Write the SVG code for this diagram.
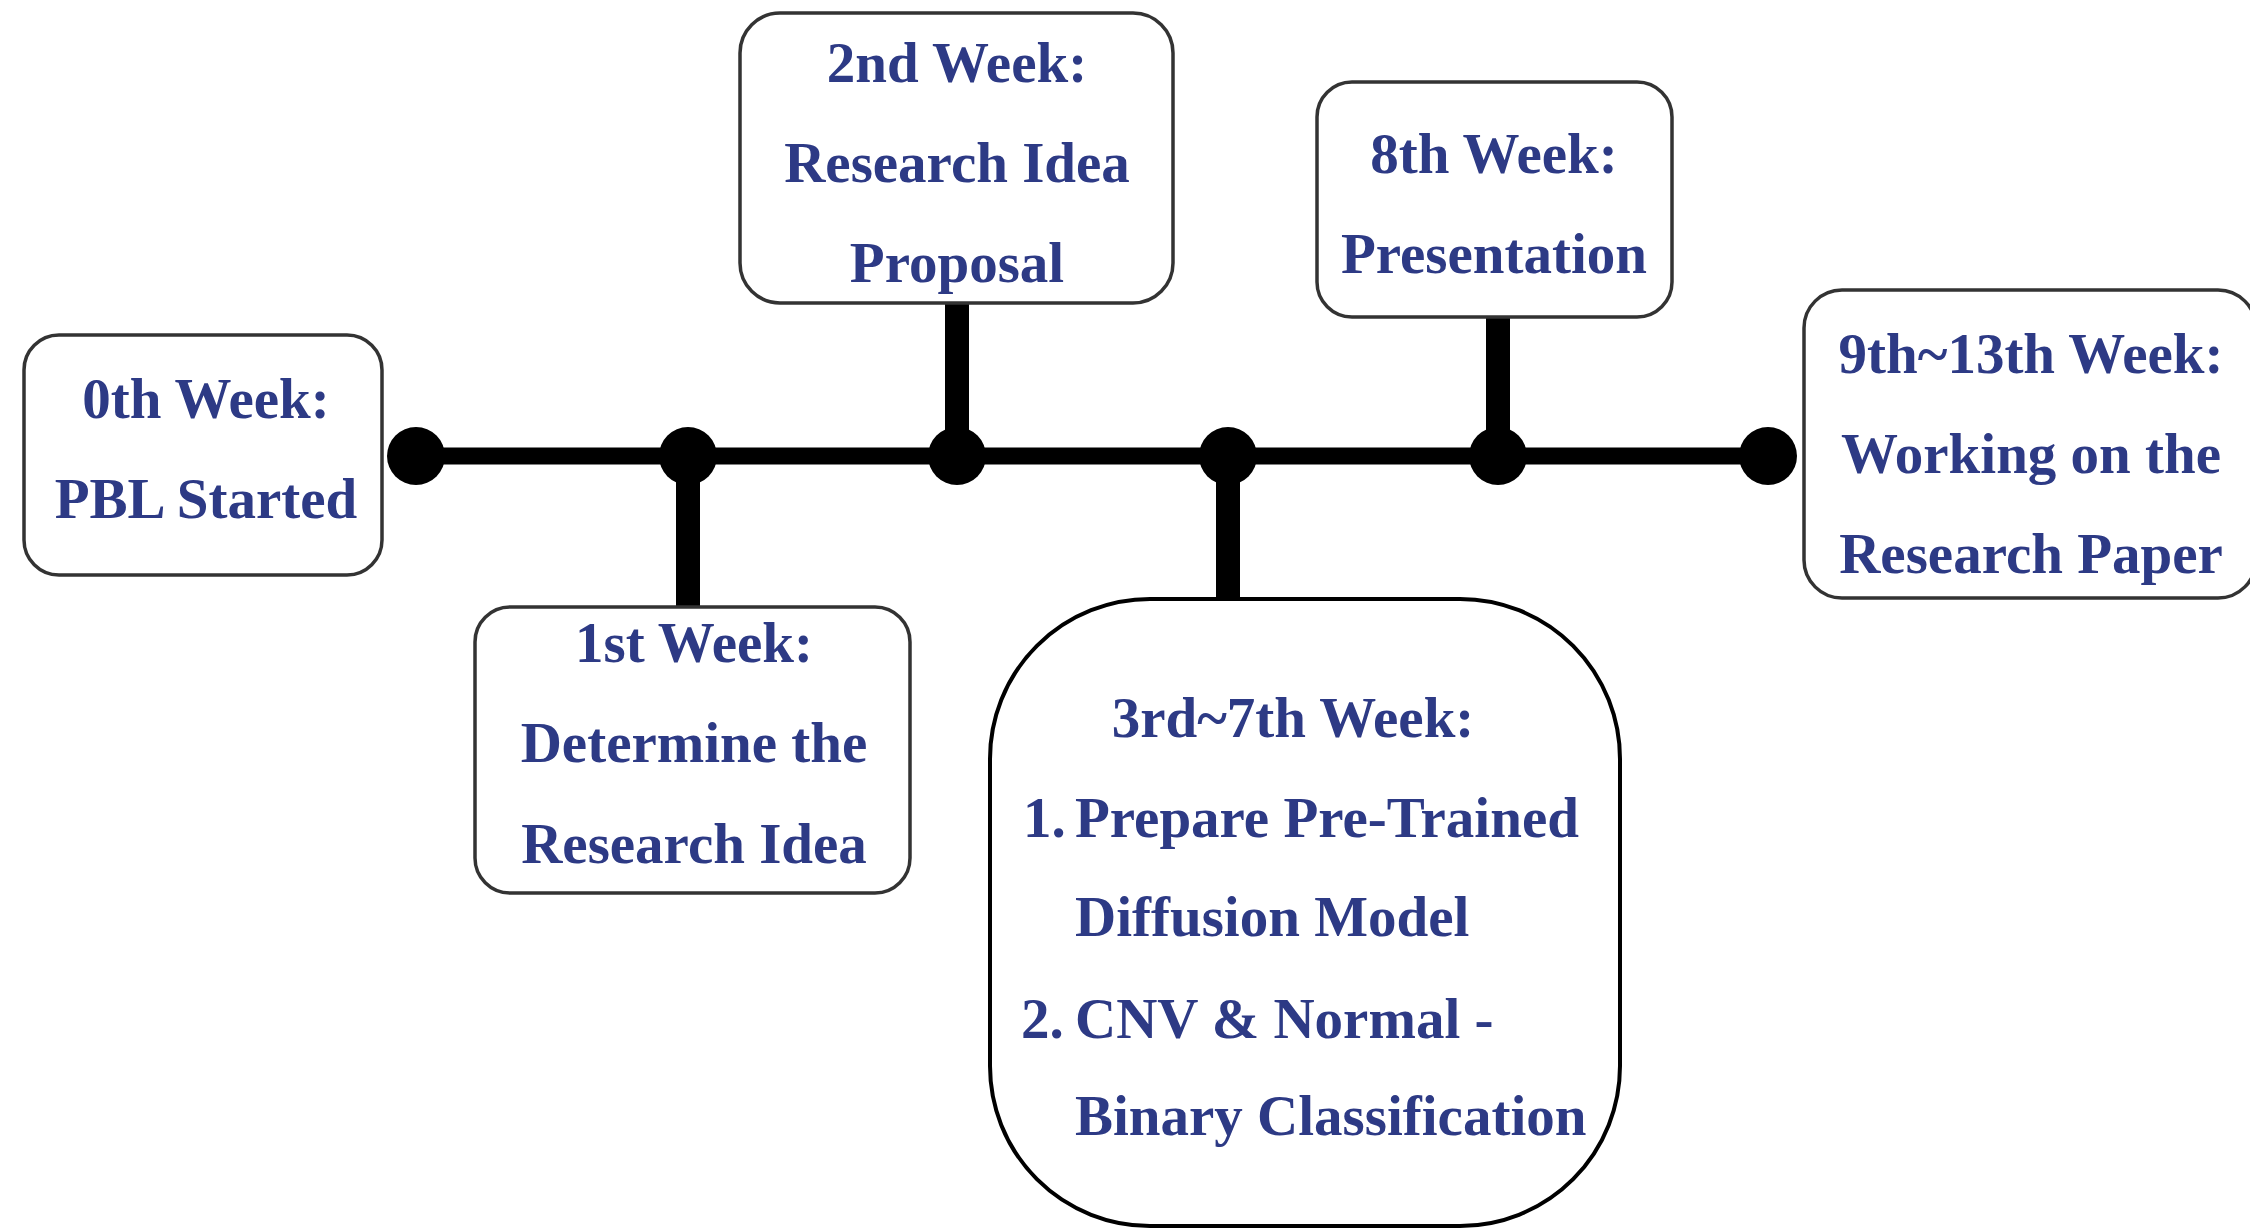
<svg xmlns="http://www.w3.org/2000/svg" width="2250" height="1229" viewBox="0 0 2250 1229">
<style>
.box{fill:#fff;stroke:#333;stroke-width:3.5}
.big{fill:#fff;stroke:#000;stroke-width:4}
.t{font-family:"Liberation Serif","Times New Roman",serif;font-weight:bold;font-size:57px;fill:#2d3a85}
.c{text-anchor:middle}
.line{stroke:#000;stroke-width:17;fill:none}
.stem{stroke:#000;stroke-width:24;fill:none}
.dot{fill:#000}
</style>
<rect width="2250" height="1229" fill="#fff"/>
<g id="connectors">
<line class="line" x1="416" y1="456" x2="1768" y2="456"/>
<line class="stem" x1="688" y1="456" x2="688" y2="606"/>
<line class="stem" x1="957" y1="304" x2="957" y2="456"/>
<line class="stem" x1="1228" y1="456" x2="1228" y2="600"/>
<line class="stem" x1="1498" y1="318" x2="1498" y2="456"/>
<circle class="dot" cx="416" cy="456" r="29"/>
<circle class="dot" cx="688" cy="456" r="29"/>
<circle class="dot" cx="957" cy="456" r="29"/>
<circle class="dot" cx="1228" cy="456" r="29"/>
<circle class="dot" cx="1498" cy="456" r="29"/>
<circle class="dot" cx="1768" cy="456" r="29"/>
</g>
<g id="week0">
<rect class="box" x="24" y="335" width="358" height="240" rx="35"/>
<text class="t c" x="206" y="418">0th Week:</text>
<text class="t c" x="206" y="518">PBL Started</text>
</g>
<g id="week1">
<rect class="box" x="475" y="607" width="435" height="286" rx="35"/>
<text class="t c" x="694" y="662">1st Week:</text>
<text class="t c" x="694" y="762">Determine the</text>
<text class="t c" x="694" y="863">Research Idea</text>
</g>
<g id="week2">
<rect class="box" x="740" y="13" width="433" height="290" rx="40"/>
<text class="t c" x="957" y="82">2nd Week:</text>
<text class="t c" x="957" y="182">Research Idea</text>
<text class="t c" x="957" y="282">Proposal</text>
</g>
<g id="week3to7">
<rect class="big" x="990" y="599" width="630" height="627" rx="160"/>
<text class="t c" x="1293" y="737">3rd~7th Week:</text>
<text class="t" x="1023" y="837">1.</text>
<text class="t" x="1075" y="837">Prepare Pre-Trained</text>
<text class="t" x="1075" y="936">Diffusion Model</text>
<text class="t" x="1021" y="1038">2.</text>
<text class="t" x="1075" y="1038">CNV &amp; Normal -</text>
<text class="t" x="1075" y="1135">Binary Classification</text>
</g>
<g id="week8">
<rect class="box" x="1317" y="82" width="355" height="235" rx="35"/>
<text class="t c" x="1494" y="173">8th Week:</text>
<text class="t c" x="1494" y="273">Presentation</text>
</g>
<g id="week9to13">
<rect class="box" x="1804" y="290" width="452" height="308" rx="38"/>
<text class="t c" x="2031" y="373">9th~13th Week:</text>
<text class="t c" x="2031" y="473">Working on the</text>
<text class="t c" x="2031" y="573">Research Paper</text>
</g>
</svg>
